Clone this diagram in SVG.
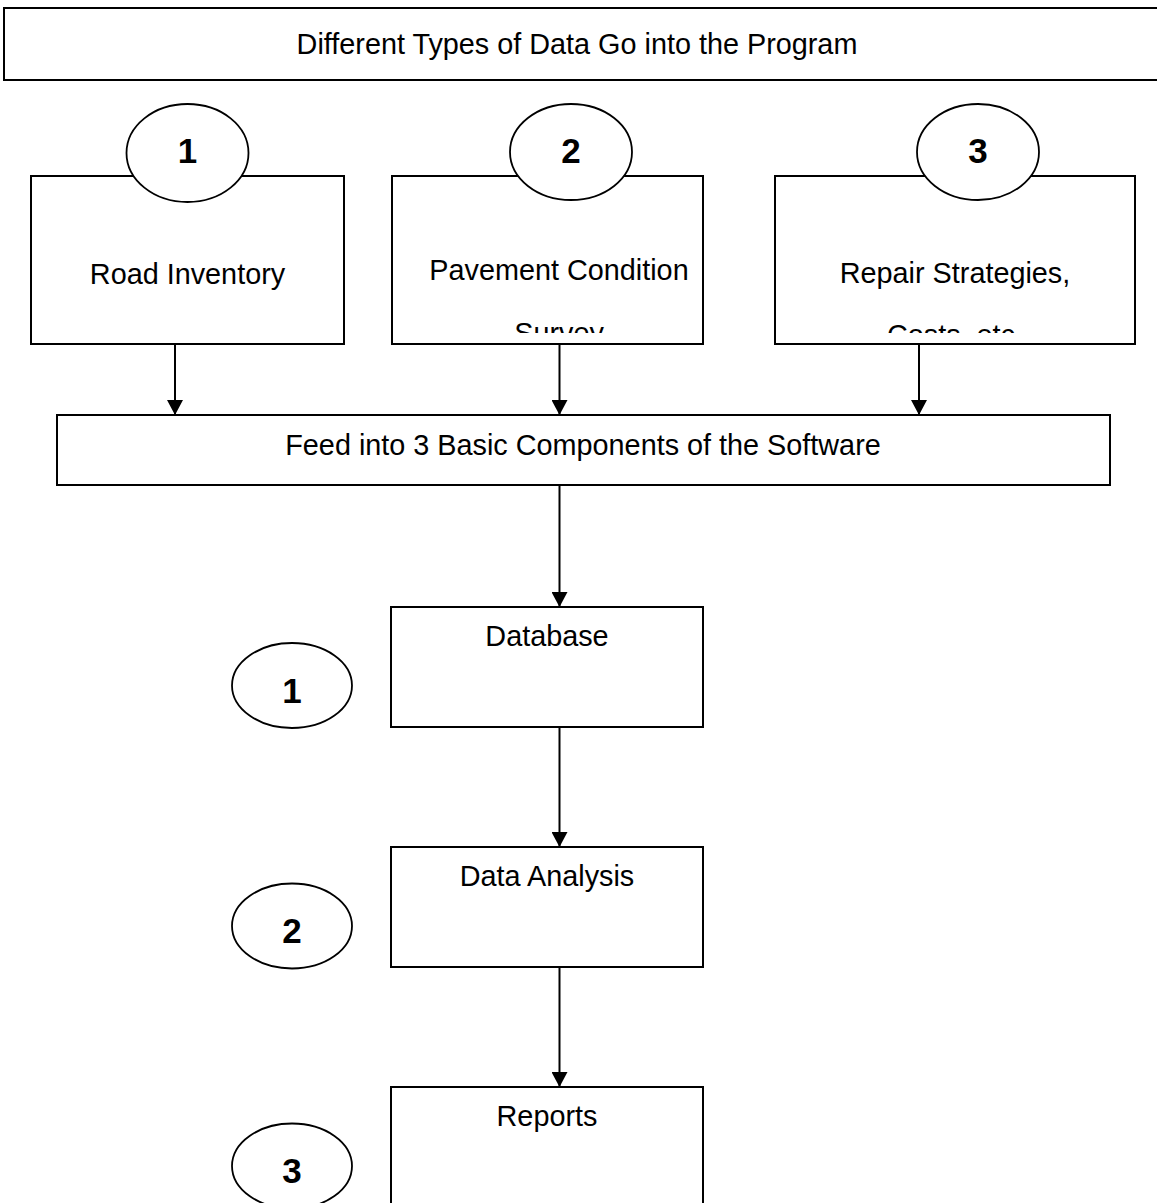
<svg xmlns="http://www.w3.org/2000/svg" width="1157" height="1203" viewBox="0 0 1157 1203">
  <style>
    .box { fill: #fff; stroke: #000; stroke-width: 2; }
    .oval { fill: #fff; stroke: #000; stroke-width: 1.8; }
    .lbl { font-family: "Liberation Sans", Arial, sans-serif; font-size: 28.8px; fill: #000; text-anchor: middle; }
    .num { font-family: "Liberation Sans", Arial, sans-serif; font-size: 35px; font-weight: bold; fill: #000; text-anchor: middle; }
    .conn { stroke: #000; stroke-width: 2; fill: none; marker-end: url(#arrow); }
  </style>
  <defs>
    <marker id="arrow" markerUnits="userSpaceOnUse" markerWidth="16" markerHeight="16" refX="15" refY="8" orient="auto">
      <path d="M0,0 L15,8 L0,16 z" fill="#000"/>
    </marker>
    <clipPath id="clip2"><rect x="392" y="176" width="311" height="157"/></clipPath>
    <clipPath id="clip3"><rect x="775" y="176" width="360" height="157"/></clipPath>
  </defs>
  <rect width="1157" height="1203" fill="#fff"/>

  <g id="title">
    <rect class="box" x="4" y="8" width="1170" height="72"/>
    <text class="lbl" x="577" y="54">Different Types of Data Go into the Program</text>
  </g>

  <g id="road-inventory">
    <rect class="box" x="31" y="176" width="313" height="168"/>
    <text class="lbl" x="187.5" y="284">Road Inventory</text>
    <ellipse class="oval" cx="187.5" cy="153" rx="61" ry="49"/>
    <text class="num" x="187.5" y="163">1</text>
  </g>

  <g id="pavement-condition">
    <rect class="box" x="392" y="176" width="311" height="168"/>
    <g clip-path="url(#clip2)">
      <text class="lbl" x="559" y="280">Pavement Condition</text>
      <text class="lbl" x="559" y="343">Survey</text>
    </g>
    <ellipse class="oval" cx="571" cy="152" rx="61" ry="48"/>
    <text class="num" x="571" y="163">2</text>
  </g>

  <g id="repair-strategies">
    <rect class="box" x="775" y="176" width="360" height="168"/>
    <g clip-path="url(#clip3)">
      <text class="lbl" x="955" y="283">Repair Strategies,</text>
      <text class="lbl" x="955" y="345">Costs, etc.</text>
    </g>
    <ellipse class="oval" cx="978" cy="152" rx="61" ry="48"/>
    <text class="num" x="978" y="163">3</text>
  </g>

  <g id="feed">
    <rect class="box" x="57" y="415" width="1053" height="70"/>
    <text class="lbl" x="583" y="455">Feed into 3 Basic Components of the Software</text>
  </g>

  <g id="database">
    <rect class="box" x="391" y="607" width="312" height="120"/>
    <text class="lbl" x="547" y="646">Database</text>
  </g>
  <g id="badge-1">
    <ellipse class="oval" cx="292" cy="685.5" rx="60" ry="42.5"/>
    <text class="num" x="292" y="703">1</text>
  </g>

  <g id="data-analysis">
    <rect class="box" x="391" y="847" width="312" height="120"/>
    <text class="lbl" x="547" y="886">Data Analysis</text>
  </g>
  <g id="badge-2">
    <ellipse class="oval" cx="292" cy="926" rx="60" ry="42.5"/>
    <text class="num" x="292" y="943">2</text>
  </g>

  <g id="reports">
    <rect class="box" x="391" y="1087" width="312" height="160"/>
    <text class="lbl" x="547" y="1126">Reports</text>
  </g>
  <g id="badge-3">
    <ellipse class="oval" cx="292" cy="1166" rx="60" ry="42.5"/>
    <text class="num" x="292" y="1183">3</text>
  </g>

  <g id="connectors">
    <line class="conn" x1="175" y1="345" x2="175" y2="415"/>
    <line class="conn" x1="559.5" y1="345" x2="559.5" y2="415"/>
    <line class="conn" x1="919" y1="345" x2="919" y2="415"/>
    <line class="conn" x1="559.5" y1="486" x2="559.5" y2="607"/>
    <line class="conn" x1="559.5" y1="728" x2="559.5" y2="847"/>
    <line class="conn" x1="559.5" y1="968" x2="559.5" y2="1087"/>
  </g>
</svg>
